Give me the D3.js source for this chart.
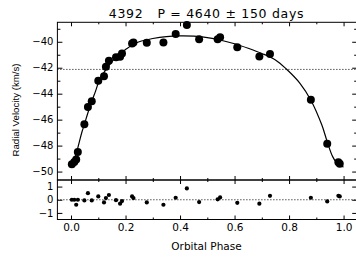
<!DOCTYPE html>
<html><head><meta charset="utf-8">
<script src="https://cdn.jsdelivr.net/npm/d3@7"></script>
<style>body{margin:0;background:#fff}svg{display:block}text{font-family:"DejaVu Sans",sans-serif;fill:#000}</style>
</head><body><svg id="c" width="356" height="258"></svg>
<script>
const titleText = "4392   P = 4640 \u00b1 150 days";
const phase = [0.003,0.012,0.019,0.025,0.049,0.062,0.076,0.100,0.121,0.128,0.139,0.165,0.180,0.187,0.224,0.229,0.278,0.339,0.384,0.425,0.470,0.538,0.547,0.610,0.691,0.730,0.880,0.940,0.981,0.986];
const velocity = [-49.44,-49.27,-49.08,-48.49,-46.36,-45.02,-44.58,-43.00,-42.65,-41.93,-41.47,-41.20,-41.16,-40.90,-40.13,-40.05,-40.08,-40.05,-39.41,-38.71,-39.81,-39.81,-39.66,-40.43,-41.13,-40.95,-44.47,-47.85,-49.28,-49.40];
const residual = [0.0,0.0,-0.38,0.0,-0.05,0.5,-0.05,0.25,-0.2,0.13,0.36,-0.03,-0.3,-0.1,0.25,0.13,-0.2,-0.38,0.15,0.86,-0.18,0.03,0.18,-0.23,-0.3,0.3,0.15,-0.13,0.3,0.25];
const fitPhase = [0,0.01,0.02,0.03,0.04,0.05,0.06,0.075,0.09,0.10,0.12,0.14,0.16,0.18,0.20,0.225,0.25,0.30,0.35,0.40,0.45,0.50,0.55,0.60,0.65,0.70,0.75,0.79,0.84,0.88,0.92,0.94,0.96,0.98,1.0];
const fitVel = [-49.65,-49.2,-48.55,-47.75,-46.95,-46.3,-45.6,-44.65,-43.8,-43.2,-42.4,-41.8,-41.3,-40.9,-40.6,-40.25,-40.0,-39.75,-39.6,-39.55,-39.57,-39.68,-39.88,-40.15,-40.5,-40.9,-41.4,-42.1,-43.2,-44.5,-46.4,-47.7,-48.85,-49.45,-49.65];
const meanVel = -42.13;
const xMajor = [0,0.2,0.4,0.6,0.8,1.0];
const xMinor = [0.1,0.3,0.5,0.7,0.9];
const yMajor = [-50,-48,-46,-44,-42,-40];
const yMinor = [-49,-47,-45,-43,-41,-39];
const rMajor = [-1,0,1];
const xLabel = "Orbital Phase";
const yLabel = "Radial Velocity (km/s)";

const svg = d3.select("#c");
const L = 57.4, R = 357.2, T = 22.3, M = 180, B = 219.5;
const x = d3.scaleLinear().domain([-0.05,1.05]).range([L,R]);
const y = d3.scaleLinear().domain([-50.65,-38.5]).range([M,T]);
const yr = d3.scaleLinear().domain([-1.5,1.5]).range([B,M]);
const fmtX = d3.format(".1f");
const fmtY = v => d3.format("d")(v).replace("-","\u2212");

function axis(gen, tr, vals, size, fmt, fs){
  const g = svg.append("g").attr("transform",tr)
    .call(gen.tickValues(vals).tickSize(size).tickPadding(4).tickFormat(fmt||""));
  g.select(".domain").remove();
  g.selectAll("line").attr("stroke","#000").attr("stroke-width",1);
  g.selectAll("text").style("font-size",(fs||10)+"px").style("font-family","DejaVu Sans");
  return g;
}
// top panel
axis(d3.axisLeft(y), `translate(${L},0)`, yMajor, -5, fmtY, 10);
axis(d3.axisLeft(y), `translate(${L},0)`, yMinor, -3);
axis(d3.axisRight(y), `translate(${R},0)`, yMajor, -5);
axis(d3.axisRight(y), `translate(${R},0)`, yMinor, -3);
axis(d3.axisTop(x), `translate(0,${T})`, xMajor, -4);
axis(d3.axisTop(x), `translate(0,${T})`, xMinor, -2);
axis(d3.axisBottom(x), `translate(0,${M})`, xMajor, -4);
axis(d3.axisBottom(x), `translate(0,${M})`, xMinor, -2);
// residual panel
axis(d3.axisLeft(yr), `translate(${L},0)`, rMajor, -5, d=>fmtY(d), 10);
axis(d3.axisRight(yr), `translate(${R},0)`, rMajor, -5);
axis(d3.axisTop(x), `translate(0,${M})`, xMajor, -4);
axis(d3.axisTop(x), `translate(0,${M})`, xMinor, -2);
axis(d3.axisBottom(x), `translate(0,${B})`, xMajor, -4, fmtX, 10.5);
axis(d3.axisBottom(x), `translate(0,${B})`, xMinor, -2);

// frames
svg.append("rect").attr("x",L).attr("y",T).attr("width",R-L).attr("height",M-T).attr("fill","none").attr("stroke","#000");
svg.append("rect").attr("x",L).attr("y",M).attr("width",R-L).attr("height",B-M).attr("fill","none").attr("stroke","#000");

// dotted lines
svg.append("line").attr("x1",L).attr("x2",R).attr("y1",y(meanVel)).attr("y2",y(meanVel))
  .attr("stroke","#000").attr("stroke-dasharray","1,2");
svg.append("line").attr("x1",L).attr("x2",R).attr("y1",yr(0)).attr("y2",yr(0))
  .attr("stroke","#000").attr("stroke-dasharray","1,2");

// fit curve
const fit = fitPhase.map((p,i)=>[p,fitVel[i]]);
svg.append("path").datum(fit).attr("fill","none").attr("stroke","#000").attr("stroke-width",1.2)
  .attr("d", d3.line().x(d=>x(d[0])).y(d=>y(d[1])).curve(d3.curveCatmullRom));

// points
const pts = phase.map((p,i)=>({p, v:velocity[i], r:residual[i]}));
svg.append("g").selectAll("circle").data(pts).join("circle")
  .attr("cx",d=>x(d.p)).attr("cy",d=>y(d.v)).attr("r",4).attr("fill","#000");
svg.append("g").selectAll("circle").data(pts).join("circle")
  .attr("cx",d=>x(d.p)).attr("cy",d=>yr(d.r)).attr("r",2.1).attr("fill","#000");

// labels
svg.append("text").attr("x",206.5).attr("y",17.5).attr("text-anchor","middle")
  .style("white-space","pre").attr("xml:space","preserve")
  .style("font-size","12.5px").style("letter-spacing","0.7px").text(titleText);
svg.append("text").attr("x",206.5).attr("y",250).attr("text-anchor","middle")
  .style("font-size","10.5px").text(xLabel);
svg.append("text").attr("transform","translate(19,110) rotate(-90)").attr("text-anchor","middle")
  .style("font-size","9.7px").style("font-family","Liberation Sans").text(yLabel);
</script></body></html>
